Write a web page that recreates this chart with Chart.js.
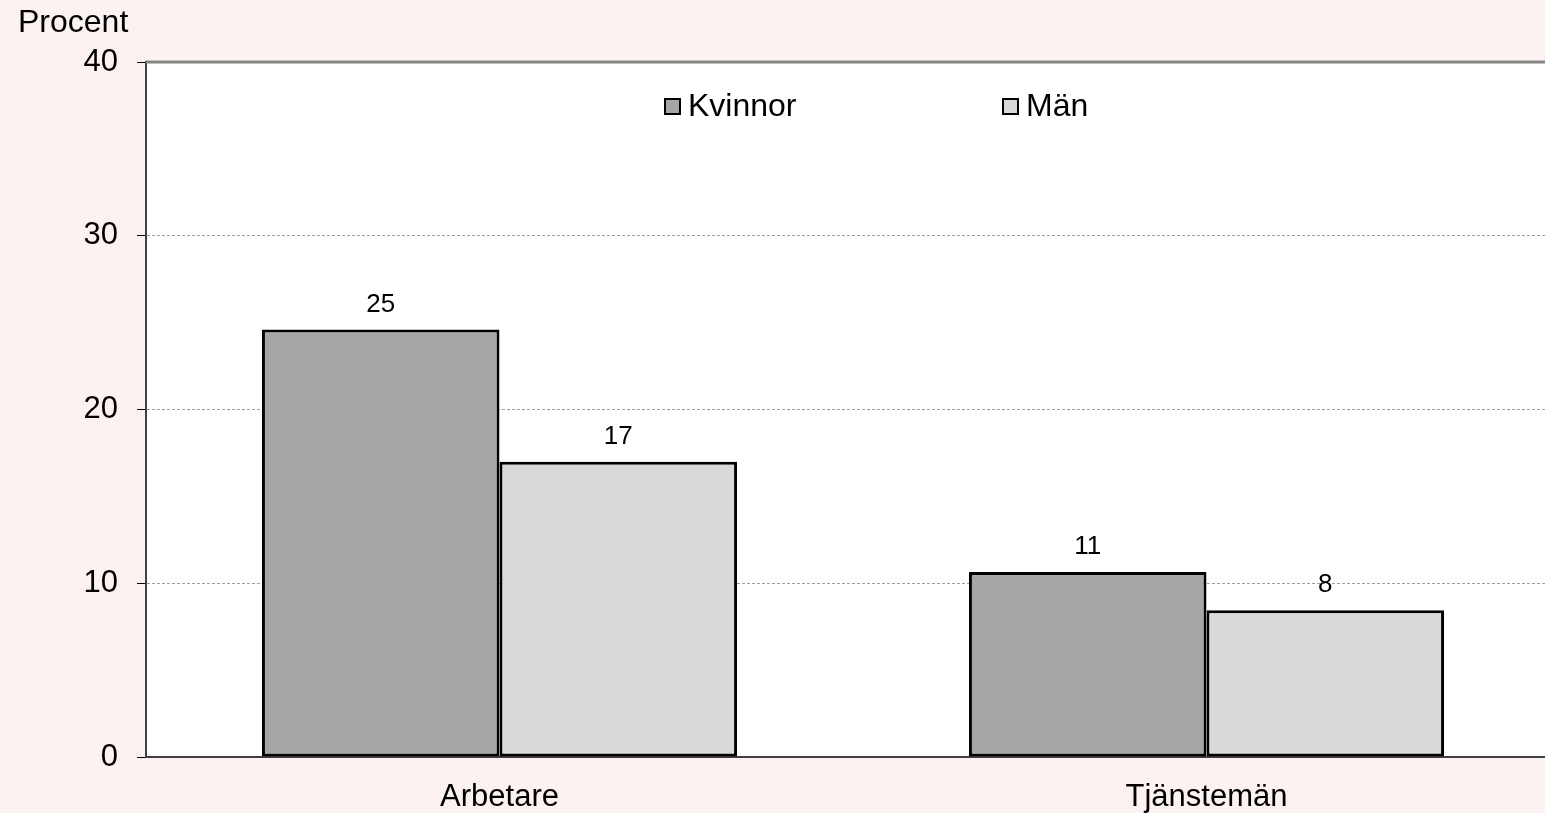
<!DOCTYPE html>
<html lang="sv">
<head>
    <meta charset="UTF-8">
    <title>Procent</title>
    <script src="https://cdn.jsdelivr.net/npm/chart.js"></script>
    <style>
        html, body { margin: 0; padding: 0; overflow: hidden; background: #fdf2f2; }
        #wrap { width: 1560px; height: 813px; }
    </style>
</head>
<body>
    <div id="wrap"><canvas id="chart"></canvas></div>

    <script>
        const categories = ['Arbetare', 'Tjänstemän'];
        const kvinnor = [24.6, 10.65];
        const man = [17.0, 8.45];
        const yTicks = [0, 10, 20, 30, 40];

        const font = 'Liberation Sans, Arial, sans-serif';

        // white plot area, top border, "Procent", value labels and legend
        const extras = {
            id: 'extras',
            beforeDraw(chart) {
                const { ctx, chartArea: a } = chart;
                ctx.save();
                ctx.fillStyle = '#ffffff';
                ctx.fillRect(a.left, a.top, a.right - a.left, a.bottom - a.top);
                ctx.restore();
            },
            afterDraw(chart) {
                const { ctx, chartArea: a } = chart;
                ctx.save();
                // top border
                ctx.strokeStyle = '#858585';
                ctx.lineWidth = 3;
                ctx.beginPath();
                ctx.moveTo(a.left, a.top);
                ctx.lineTo(a.right, a.top);
                ctx.stroke();

                // axis title
                ctx.fillStyle = '#000';
                ctx.font = '32px ' + font;
                ctx.textAlign = 'left';
                ctx.textBaseline = 'middle';
                ctx.fillText('Procent', 18, 23);

                // value labels
                ctx.font = '26px ' + font;
                ctx.textAlign = 'center';
                chart.data.datasets.forEach((ds, i) => {
                    chart.getDatasetMeta(i).data.forEach((bar, j) => {
                        ctx.fillText(Math.round(ds.data[j]), bar.x, bar.y - 25);
                    });
                });

                // legend inside plot
                const legendX = [a.left + 519, a.left + 857];
                const ly = a.top + 44;
                ctx.font = '32px ' + font;
                ctx.textAlign = 'left';
                chart.data.datasets.forEach((ds, i) => {
                    const x = legendX[i];
                    ctx.fillStyle = ds.backgroundColor;
                    ctx.fillRect(x, ly - 7, 15, 15);
                    ctx.strokeStyle = '#000';
                    ctx.lineWidth = 2;
                    ctx.strokeRect(x, ly - 7, 15, 15);
                    ctx.fillStyle = '#000';
                    ctx.fillText(ds.label, x + 23, ly + 1);
                });
                ctx.restore();
            }
        };

        new Chart(document.getElementById('chart'), {
            type: 'bar',
            data: {
                labels: categories,
                datasets: [
                    {
                        label: 'Kvinnor',
                        data: kvinnor,
                        backgroundColor: '#a6a6a6',
                        borderColor: '#000',
                        borderWidth: 3,
                        borderSkipped: false
                    },
                    {
                        label: 'Män',
                        data: man,
                        backgroundColor: '#d9d9d9',
                        borderColor: '#000',
                        borderWidth: 3,
                        borderSkipped: false
                    }
                ]
            },
            options: {
                responsive: true,
                maintainAspectRatio: false,
                animation: false,
                layout: { padding: { top: 62, right: 0, left: 0, bottom: 0 } },
                datasets: { bar: { categoryPercentage: 0.672, barPercentage: 1 } },
                plugins: {
                    legend: { display: false },
                    tooltip: { enabled: false }
                },
                scales: {
                    x: {
                        grid: { display: false },
                        border: { color: '#404040', width: 2 },
                        ticks: { color: '#000', font: { family: font, size: 31 }, padding: 14 },
                        afterFit: s => { s.height = 56; }
                    },
                    y: {
                        min: 0,
                        max: 40,
                        afterBuildTicks: s => { s.ticks = yTicks.map(v => ({ value: v })); },
                        grid: {
                            color: c => (c.tick.value === 0 || c.tick.value === 40) ? 'rgba(0,0,0,0)' : '#a0a0a0',
                            lineWidth: 1,
                            tickLength: 9,
                            tickColor: '#000'
                        },
                        border: { color: '#404040', width: 2, dash: [3, 2] },
                        ticks: { color: '#000', font: { family: font, size: 31 }, padding: 19 },
                        afterFit: s => { s.width = 146; }
                    }
                }
            },
            plugins: [extras]
        });
    </script>
</body>
</html>
